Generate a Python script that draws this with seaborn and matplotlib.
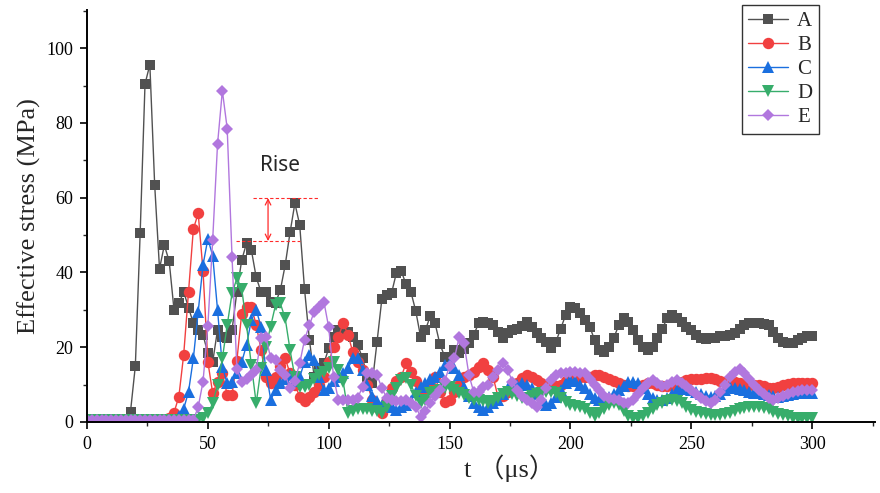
import numpy as np
import pandas as pd
import matplotlib
matplotlib.use("Agg")
import matplotlib.pyplot as plt
import seaborn as sns
from matplotlib.ticker import MultipleLocator

# Effective stress histories (MPa), sampled every 2 us from 0 to 300 us
t_step = 2
case_names = ["A", "B", "C", "D", "E"]

stress_A = [
    0.5, 0.5, 0.5, 0.5, 0.5, 0.5, 0.5, 0.5, 0.5, 2.8,
    15, 50.6, 90.4, 95.6, 63.4, 41, 47.3, 43, 30, 31.7,
    34.8, 30.6, 26.4, 24.6, 23.3, 18.4, 16.1, 24.6, 22.8, 22.5,
    24.6, 34.8, 43.3, 47.8, 46, 38.7, 34.8, 34.8, 32.2, 31.9,
    35.3, 42, 50.7, 58.5, 52.7, 35.5, 22, 12.1, 14.4, 15.7,
    19.7, 22.8, 24.6, 25, 24.1, 22.8, 20.6, 17, 12.1, 10.3,
    21.5, 33, 34, 34.5, 39.9, 40.4, 36.8, 34.8, 29.7, 22.8,
    24.6, 28.3, 26.4, 20.8, 17.5, 17.3, 19.3, 18.5, 19.6, 21.2,
    23.3, 26.4, 26.8, 26.5, 25.9, 24.1, 22.6, 23.7, 24.6, 25,
    25.7, 26.8, 25.5, 23.7, 22.5, 21.5, 19.7, 21.5, 25, 28.6,
    30.7, 30.4, 29.2, 27.3, 25.5, 21.9, 19.3, 18.8, 20.1, 22.6,
    25.9, 27.7, 26.8, 24.6, 21.9, 20, 19.3, 20.1, 22.4, 25,
    27.7, 28.6, 27.7, 26.8, 25.5, 24.6, 23.3, 22.4, 22.1, 22.4,
    22.6, 23, 23, 23.3, 23.7, 24.8, 25.9, 26.5, 26.5, 26.4,
    26.2, 25.9, 24.1, 22.4, 21.5, 21, 21.2, 21.9, 22.6, 23,
    23,
]

stress_B = [
    0.5, 0.5, 0.5, 0.5, 0.5, 0.5, 0.5, 0.5, 0.5, 0.5,
    0.5, 0.5, 0.5, 0.5, 0.5, 0.5, 0.5, 1.0, 2.5, 6.8,
    18, 34.8, 51.6, 55.8, 40.4, 16.1, 7.7, 10.8, 13, 7.3,
    7.3, 16.4, 29, 30.8, 30.8, 26, 19.3, 12, 10.3, 12,
    15, 17, 13, 10, 6.8, 5.6, 6.8, 8, 10, 12,
    16, 20, 22.8, 26.4, 23.3, 18.6, 16, 13.9, 10, 6,
    4, 2.3, 6, 9, 11, 12.1, 15.7, 13.4, 11, 9,
    8, 10, 12.1, 8, 5.4, 6, 8, 10, 12.1, 12.5,
    13.4, 14.8, 15.7, 14, 12.1, 6.8, 7, 8, 9, 10.5,
    11.7, 12.6, 12, 11.2, 10.5, 9.5, 9, 9.5, 10, 11,
    11.5, 12, 12, 12, 12, 12.5, 12.5, 12, 11.5, 11,
    10.5, 10, 9.5, 9.5, 9.5, 10, 10.3, 10.3, 10, 9.5,
    9.5, 9.8, 10.3, 10.8, 11.2, 11.5, 11.5, 11.5, 11.7, 11.7,
    11.5, 11, 10.8, 10.8, 10.8, 10.5, 10, 9.8, 9.8, 9.9,
    9.5, 9, 9, 9.3, 9.9, 10.2, 10.4, 10.5, 10.5, 10.5,
    10.5,
]

stress_C = [
    0.5, 0.5, 0.5, 0.5, 0.5, 0.5, 0.5, 0.5, 0.5, 0.5,
    0.5, 0.5, 0.5, 0.5, 0.5, 0.5, 0.5, 0.5, 0.5, 1.5,
    3.5, 8.1, 17, 29.5, 42, 49, 44.5, 30, 14.8, 10.3,
    10.8, 13, 16, 20.6, 27.3, 30, 25.5, 13.9, 5.9, 8.6,
    10.5, 11.5, 12.5, 11, 12, 16.1, 17.9, 16.6, 12, 8.6,
    9, 11, 12, 13, 14.4, 17, 17, 14, 10, 7,
    5.5, 4.5, 4.5, 4, 3.2, 4, 4.5, 5.5, 8, 9.4,
    10.5, 11.5, 12, 13.5, 15.2, 15.7, 14.5, 12.6, 9.4, 7,
    5, 4.1, 3.2, 4, 5, 6, 7.5, 9, 9.5, 10,
    10.3, 9.8, 9, 7.5, 5.5, 4.5, 5, 6.8, 8.5, 10.3,
    11.2, 11, 10, 9, 7.5, 6.5, 6, 6.5, 6.8, 7.5,
    8.6, 9.5, 10.8, 10.8, 10.5, 9, 7.5, 6.5, 6, 6,
    6.5, 7.5, 8.5, 9, 8.8, 8.5, 8, 7.5, 7, 6.8,
    7, 7.5, 8.5, 9.4, 9.2, 8.8, 8.5, 8, 7.8, 7.7,
    7.5, 7.2, 7, 6.8, 7, 7.3, 7.5, 7.7, 7.7, 7.7,
    7.7,
]

stress_D = [
    0.5, 0.5, 0.5, 0.5, 0.5, 0.5, 0.5, 0.5, 0.5, 0.5,
    0.5, 0.5, 0.5, 0.5, 0.5, 0.5, 0.5, 0.5, 0.5, 0.5,
    0.5, 0.5, 0.5, 0.5, 1, 2.3, 5, 9.9, 17, 25.9,
    34.4, 38.4, 35.7, 25.9, 15.2, 5, 14.4, 20, 25.5, 31.3,
    31.7, 27.7, 19.3, 12, 9.4, 9.4, 10, 11.5, 12.5, 13.5,
    14.4, 16.1, 14, 10.8, 2.3, 3, 3.5, 3.5, 3.5, 3,
    3, 2.5, 4, 7, 9, 11.2, 11.7, 10, 7, 5,
    6, 7.7, 8, 8.5, 9, 9.4, 8.5, 7.8, 7.3, 6.5,
    6, 5.8, 5.5, 5.2, 5.5, 6.5, 7.5, 8, 7.5, 7,
    6.5, 6.5, 7, 7.5, 7.7, 8, 8, 7.7, 6.5, 5.4,
    4.5, 4.3, 4, 3.5, 2.5, 1.5, 2.5, 3.5, 4.5, 5,
    4.5, 3, 1.5, 1, 1, 1.5, 2.5, 3.5, 4.5, 5,
    5.6, 5.9, 5.5, 5, 4, 3.2, 2.7, 2.3, 2.1, 2,
    2, 2, 2.2, 2.5, 2.9, 3.4, 3.8, 4, 4.1, 4.1,
    3.8, 3.4, 2.8, 2.2, 1.8, 1.5, 1.2, 1, 1, 1,
    1,
]

stress_E = [
    0.5, 0.5, 0.5, 0.5, 0.5, 0.5, 0.5, 0.5, 0.5, 0.5,
    0.5, 0.5, 0.5, 0.5, 0.5, 0.5, 0.5, 0.5, 0.5, 0.5,
    0.5, 0.5, 0.5, 4, 10.8, 25.7, 48.8, 74.3, 88.6, 78.5,
    44.2, 14.2, 10.8, 11.5, 12.5, 14, 22.4, 22.8, 17, 16.6,
    14, 12.6, 9, 11, 15.7, 22, 25.9, 29.5, 30.8, 32.2,
    25.3, 12.1, 5.9, 5.8, 5.8, 5.8, 6.5, 9.4, 13, 13,
    12.6, 9, 6.5, 6, 5.7, 5.5, 6, 5, 4.1, 1.4,
    3, 5, 7, 8.5, 11, 15, 17, 22.8, 21, 12.6,
    8, 8, 9.4, 10, 12, 14, 15.7, 14, 10.8, 8.5,
    7, 6, 5, 4.1, 6, 9, 11.2, 12.5, 13, 13.2,
    13.3, 13.3, 13.2, 13, 11.5, 10, 8.5, 7, 6.5, 6.2,
    5.8, 5.2, 5, 6, 7.5, 9, 10.5, 11.2, 10.5, 9.5,
    10, 10.8, 11.2, 10.5, 9.5, 8.5, 7.5, 6.5, 5.5, 5,
    6, 8, 10, 12, 13.5, 14.2, 13, 11.5, 10, 8.5,
    7.5, 6.5, 6, 6.5, 7, 7.5, 8, 8.3, 8.5, 8.5,
    8.5,
]

# Levels marking the second rise of case A
rise_levels = [48.4, 59.9]

frames = []
for name, vals in zip(case_names, [stress_A, stress_B, stress_C, stress_D, stress_E]):
    frames.append(pd.DataFrame({
        "t": np.arange(len(vals)) * t_step,
        "stress": vals,
        "case": name,
    }))
df = pd.concat(frames, ignore_index=True)

sns.set_style("ticks")
plt.rcParams["font.family"] = ["Liberation Serif", "Noto Sans CJK SC", "DejaVu Sans"]

palette = {"A": "#515151", "B": "#F14040", "C": "#1A6FDF", "D": "#37AD6B", "E": "#B177DE"}
markers = {"A": "s", "B": "o", "C": "^", "D": "v", "E": "D"}
msize = {"A": 7.4, "B": 8.2, "C": 8.8, "D": 8.8, "E": 6.4}

fig = plt.figure(figsize=(8.8, 4.93), dpi=100)
ax = fig.add_axes([87 / 880, 71 / 493, 788 / 880, 412 / 493])

sns.lineplot(data=df, x="t", y="stress", hue="case", style="case",
             markers=markers, dashes=False, palette=palette,
             linewidth=1.0, markersize=7, markeredgewidth=0,
             estimator=None, sort=False, ax=ax, legend=True)

for line, name in zip(ax.lines, case_names):
    line.set_markersize(msize[name])
    line.set_markeredgewidth(0)

ax.set_xlim(0, 326)
ax.set_ylim(0, 110.2)
ax.xaxis.set_major_locator(MultipleLocator(50))
ax.xaxis.set_minor_locator(MultipleLocator(25))
ax.yaxis.set_major_locator(MultipleLocator(20))
ax.yaxis.set_minor_locator(MultipleLocator(10))
ax.tick_params(which="major", direction="out", length=5, width=1.2,
               labelsize=13, colors="black", pad=5)
ax.tick_params(which="minor", direction="out", length=3, width=1.0)
for side in ["top", "right"]:
    ax.spines[side].set_visible(False)
for side in ["left", "bottom"]:
    ax.spines[side].set_linewidth(1.4)
    ax.spines[side].set_color("black")

ax.set_xlabel("t （μs）", fontsize=19)
ax.set_ylabel("Effective stress (MPa)", fontsize=19)
ax.xaxis.set_label_coords(0.536, -0.078)
ax.yaxis.set_label_coords(-0.058, 0.5)

# Rise annotation
ax.hlines(rise_levels[1], 68.7, 95.6, colors="#ff2a2a", linestyles=(0, (3, 2)), linewidth=0.8)
ax.hlines(rise_levels[0], 61.6, 88.1, colors="#ff2a2a", linestyles=(0, (3, 2)), linewidth=0.8)
ax.annotate("", xy=(74.9, rise_levels[0]), xytext=(74.9, rise_levels[1]),
            arrowprops=dict(arrowstyle="<->", color="#ff2a2a", lw=0.9,
                            shrinkA=0, shrinkB=0))
ax.text(80, 68.5, "Rise", fontsize=15, family=["Noto Sans", "DejaVu Sans"],
        ha="center", va="center")

handles, labels = ax.get_legend_handles_labels()
for h, name in zip(handles, labels):
    h.set_markeredgewidth(0)
    h.set_linewidth(1.0)
    h.set_markersize(msize.get(name, 7))
leg = ax.legend(handles, labels, loc="upper left",
                bbox_to_anchor=(742 / 880, 1 - 5 / 493),
                bbox_transform=fig.transFigure,
                frameon=True, fancybox=False, edgecolor="black",
                fontsize=15, handlelength=1.9, handletextpad=0.45,
                labelspacing=0.22, borderpad=0.3, borderaxespad=0)
leg.get_frame().set_linewidth(1.0)

fig.savefig("out.png", dpi=100)
